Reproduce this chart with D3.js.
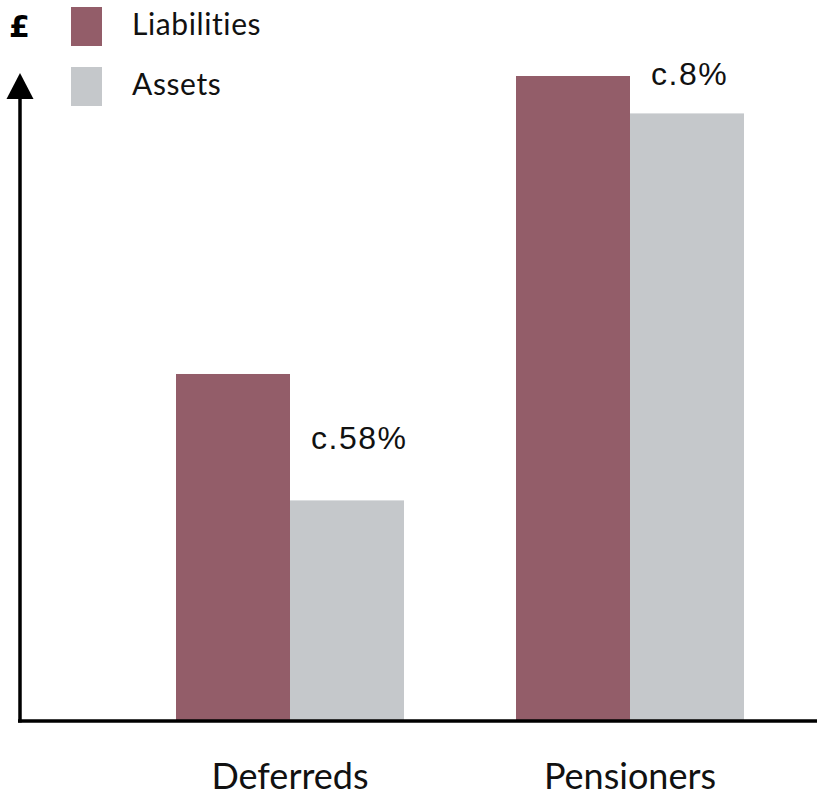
<!DOCTYPE html>
<html>
<head>
<meta charset="utf-8">
<script src="https://cdn.jsdelivr.net/npm/d3@7"></script>
<style>
  html, body { margin: 0; padding: 0; background: #ffffff; }
  svg { display: block; }
  text { font-variant-ligatures: none; font-feature-settings: "liga" 0, "clig" 0; }
</style>
</head>
<body>
<svg id="chart" width="817" height="799"></svg>
<script>
// Scheme groups and the two series drawn for each (relative £ amounts)
const categories = ["Deferreds", "Pensioners"];
const seriesNames = ["Liabilities", "Assets"];
const liabilities = [53.8, 100];
const assets = [34.2, 94.2];
const gapLabels = ["c.58%", "c.8%"];

const colors = { Liabilities: "#935d69", Assets: "#c5c8cb" };

const W = 817, H = 799;
const baseY = 721, topY = 76;
const svg = d3.select("#chart");

const x0 = d3.scaleBand().domain(categories).range([120, 800]).paddingInner(0).paddingOuter(0);
const barW = 114;
const x1 = d3.scaleBand().domain(seriesNames)
  .range([x0.bandwidth() / 2 - barW, x0.bandwidth() / 2 + barW]).padding(0);
const y = d3.scaleLinear().domain([0, 100]).range([baseY, topY]);

const rows = categories.map((c, i) => ({
  category: c,
  values: [
    { key: "Liabilities", value: liabilities[i] },
    { key: "Assets", value: assets[i] }
  ],
  label: gapLabels[i]
}));

// Bars
const groups = svg.selectAll("g.group").data(rows).join("g")
  .attr("class", "group")
  .attr("transform", d => `translate(${x0(d.category)},0)`);

groups.selectAll("rect").data(d => d.values).join("rect")
  .attr("x", d => x1(d.key))
  .attr("y", d => y(d.value))
  .attr("width", x1.bandwidth())
  .attr("height", d => y(0) - y(d.value))
  .attr("fill", d => colors[d.key]);

// Gap labels: between the two bar tops for the deferreds, above the assets bar for pensioners
groups.append("text")
  .attr("x", d => x1("Assets") + 21)
  .attr("y", (d, i) => i === 0
    ? (y(d.values[0].value) + y(d.values[1].value)) / 2 + 12
    : y(d.values[1].value) - 28)
  .attr("font-family", "'Liberation Sans', Arial, sans-serif")
  .attr("font-size", 32)
  .attr("letter-spacing", 1.5)
  .attr("fill", "#111")
  .text(d => d.label);

// Category labels
svg.selectAll("text.cat").data(categories).join("text")
  .attr("class", "cat")
  .attr("x", d => x0(d) + x0.bandwidth() / 2)
  .attr("y", 789)
  .attr("text-anchor", "middle")
  .attr("font-family", "Lato, 'Open Sans', sans-serif")
  .attr("font-size", 36)
  .attr("fill", "#111")
  .text(d => d);

// Axes: baseline and upward arrow
svg.append("line")
  .attr("x1", 18).attr("x2", W)
  .attr("y1", baseY).attr("y2", baseY)
  .attr("stroke", "#000").attr("stroke-width", 3.5);

svg.append("line")
  .attr("x1", 20).attr("x2", 20)
  .attr("y1", baseY + 1.5).attr("y2", 96)
  .attr("stroke", "#000").attr("stroke-width", 3.5);

svg.append("path")
  .attr("d", d3.line()([[20, 73], [33.5, 99], [6.5, 99]]) + "Z")
  .attr("fill", "#000");

svg.append("text")
  .attr("x", 9).attr("y", 37)
  .attr("font-family", "'DejaVu Sans', sans-serif")
  .attr("font-weight", "bold")
  .attr("font-size", 30)
  .attr("fill", "#000")
  .text("£");

// Legend
const legend = svg.selectAll("g.legend").data(seriesNames).join("g")
  .attr("class", "legend")
  .attr("transform", (d, i) => `translate(71,${7 + i * 60})`);

legend.append("rect")
  .attr("width", 31).attr("height", 39)
  .attr("fill", d => colors[d]);

legend.append("text")
  .attr("x", 61).attr("y", 28)
  .attr("font-family", "Lato, 'Open Sans', sans-serif")
  .attr("font-size", 30)
  .attr("letter-spacing", 0.6)
  .attr("fill", "#111")
  .text(d => d);
</script>
</body>
</html>
